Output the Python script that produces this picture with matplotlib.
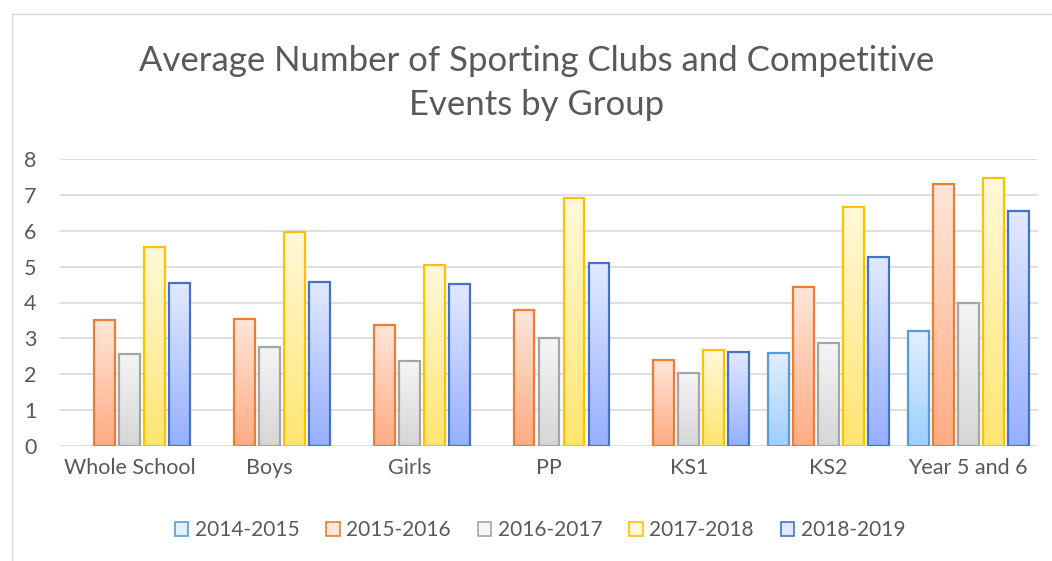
import matplotlib
matplotlib.use("Agg")
import matplotlib.pyplot as plt
import numpy as np
from matplotlib.colors import LinearSegmentedColormap
from matplotlib.patches import Patch, Rectangle

groups = ["Whole School", "Boys", "Girls", "PP", "KS1", "KS2", "Year 5 and 6"]
seasons = ["2014-2015", "2015-2016", "2016-2017", "2017-2018", "2018-2019"]

v_2014 = [np.nan, np.nan, np.nan, np.nan, np.nan, 2.60, 3.20]
v_2015 = [3.52, 3.54, 3.37, 3.78, 2.41, 4.42, 7.30]
v_2016 = [2.56, 2.76, 2.38, 3.00, 2.03, 2.87, 3.98]
v_2017 = [5.54, 5.97, 5.05, 6.90, 2.67, 6.65, 7.48]
v_2018 = [4.55, 4.58, 4.52, 5.09, 2.63, 5.27, 6.55]
series = [v_2014, v_2015, v_2016, v_2017, v_2018]

# (edge, top of gradient, bottom of gradient)
styles = [
    ("#5B9BD5", "#E3EFFD", "#9DCFFF"),
    ("#ED7D31", "#FFE6DA", "#FFAB82"),
    ("#A5A5A5", "#F5F5F5", "#D6D6D6"),
    ("#FFC000", "#FFF9DA", "#FFE570"),
    ("#4472C4", "#E2E9FF", "#96AFFF"),
]

text_col = "#595959"
plt.rcParams["font.family"] = ["Lato", "DejaVu Sans"]

fig = plt.figure(figsize=(10.52, 5.61), dpi=100)
ax = fig.add_axes([60 / 1052, 1 - 446 / 561, 978 / 1052, 287 / 561])

x = np.arange(len(groups))
step = 0.179
width = 0.15
grad = np.linspace(0, 1, 256).reshape(-1, 1)

for i, (vals, (edge, top, bottom)) in enumerate(zip(series, styles)):
    cmap = LinearSegmentedColormap.from_list(seasons[i], [bottom, top])
    offs = (i - 2) * step
    bars = ax.bar(x + offs, vals, width, facecolor="none", edgecolor=edge,
                  linewidth=1.6, zorder=3)
    for b, v in zip(bars, vals):
        if np.isnan(v):
            continue
        x0 = b.get_x()
        im = ax.imshow(grad, cmap=cmap, aspect="auto", origin="lower",
                       extent=[x0, x0 + width, 0, v], zorder=2)
        im.set_clip_path(b)

ax.set_xlim(-0.5, len(groups) - 0.5)
ax.set_ylim(0, 8)
ax.set_yticks(range(0, 9))
ax.set_xticks(x)
ax.set_xticklabels(groups)
ax.grid(axis="y", color="#D9D9D9", linewidth=1.2, zorder=0)
ax.set_axisbelow(True)
for s in ax.spines.values():
    s.set_visible(False)
ax.tick_params(length=0, labelsize=15.5, colors=text_col, pad=9)
ax.tick_params(axis="y", pad=17)

fig.text(537 / 1052, 1 - 83 / 561,
         "Average Number of Sporting Clubs and Competitive\nEvents by Group",
         ha="center", va="center", fontsize=25, color=text_col,
         linespacing=1.45)

handles = [Patch(facecolor=top, edgecolor=edge, linewidth=1.2) for edge, top, _ in styles]
fig.legend(handles, seasons, loc="center", bbox_to_anchor=(540 / 1052, 1 - 530 / 561),
           ncol=5, frameon=False, fontsize=15, labelcolor=text_col,
           handlelength=0.65, handleheight=0.65, handletextpad=0.3, columnspacing=1.3)

fig.add_artist(Rectangle((12 / 1052, -0.1), 1.2, 1.1 - 14 / 561, transform=fig.transFigure,
                         fill=False, edgecolor="#D9D9D9", linewidth=1))

fig.savefig("out.png", dpi=100)
